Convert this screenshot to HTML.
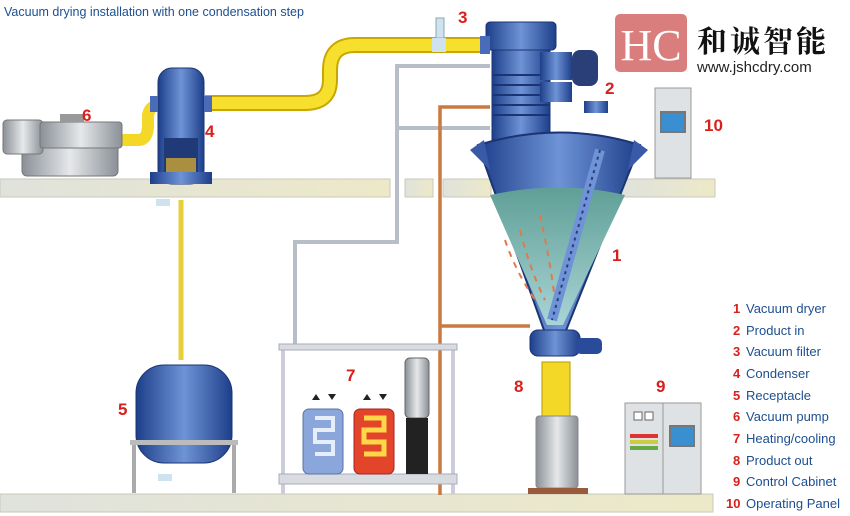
<!DOCTYPE html>
<html><head><meta charset="utf-8"><style>
body{margin:0;background:#fff;width:850px;height:516px;overflow:hidden}
svg{display:block;font-family:"Liberation Sans","Noto Sans CJK SC",sans-serif}
.n{fill:#d8201c;font-weight:bold;font-size:17px}
.l{fill:#1d4f91;font-size:13px}
.ln{fill:#d8201c;font-weight:bold;font-size:13px}
</style></head><body>
<svg width="850" height="516" viewBox="0 0 850 516">
<defs>
<linearGradient id="blue" x1="0" x2="1"><stop offset="0" stop-color="#1d3f8a"/><stop offset=".5" stop-color="#6f93d6"/><stop offset="1" stop-color="#1d3f8a"/></linearGradient>
<linearGradient id="grey" x1="0" x2="1"><stop offset="0" stop-color="#8a9096"/><stop offset=".5" stop-color="#e6e8ea"/><stop offset="1" stop-color="#8a9096"/></linearGradient>
<linearGradient id="shelf" x1="0" x2="1"><stop offset="0" stop-color="#e0e2dc"/><stop offset="1" stop-color="#ede9c8"/></linearGradient>
<linearGradient id="fill" x1="0" y1="0" x2="0" y2="1"><stop offset="0" stop-color="#5f9f96"/><stop offset="1" stop-color="#a9d4d6"/></linearGradient>
</defs>
<text x="4" y="16" fill="#1d4f91" font-size="12.5">Vacuum drying installation with one condensation step</text>

<rect x="0" y="179" width="390" height="18" fill="url(#shelf)" stroke="#c9c9bb"/>
<rect x="405" y="179" width="28" height="18" fill="url(#shelf)" stroke="#c9c9bb"/>
<rect x="443" y="179" width="48" height="18" fill="url(#shelf)" stroke="#c9c9bb"/>
<rect x="620" y="179" width="95" height="18" fill="url(#shelf)" stroke="#c9c9bb"/>
<rect x="0" y="494" width="713" height="18" fill="url(#shelf)" stroke="#c9c9bb"/>

<path d="M490 66 H397 V242 H295 V350" fill="none" stroke="#b7bec8" stroke-width="4"/>
<path d="M397 128 H490" fill="none" stroke="#b7bec8" stroke-width="4"/>
<path d="M490 107 H440 V495 M440 326 H530" fill="none" stroke="#c87a40" stroke-width="3.5"/>

<path d="M205 103 H305 Q330 103 330 80 V70 Q330 45 355 45 H485" fill="none" stroke="#c8a800" stroke-width="16"/>
<path d="M205 103 H305 Q330 103 330 80 V70 Q330 45 355 45 H485" fill="none" stroke="#f7df2e" stroke-width="12"/>
<path d="M122 140 H138 Q148 140 148 125 V115 Q150 105 160 105" fill="none" stroke="#f3d827" stroke-width="12"/>
<rect x="436" y="18" width="8" height="20" fill="#cfe2ef" stroke="#8aa"/>
<rect x="432" y="38" width="14" height="14" fill="#cfe2ef"/>
<path d="M181 200 V360" stroke="#e6cf3a" stroke-width="5"/>

<!-- vacuum pump -->
<rect x="22" y="138" width="96" height="38" rx="5" fill="url(#grey)" stroke="#777"/>
<rect x="3" y="120" width="40" height="34" rx="4" fill="url(#grey)" stroke="#777"/>
<rect x="40" y="122" width="82" height="26" rx="3" fill="url(#grey)" stroke="#777"/>
<rect x="60" y="114" width="24" height="8" fill="#999"/>

<!-- condenser -->
<rect x="158" y="68" width="46" height="116" rx="14" fill="url(#blue)" stroke="#1b3473"/>
<rect x="150" y="96" width="8" height="16" fill="#4a6cb8"/><rect x="204" y="96" width="8" height="16" fill="#4a6cb8"/>
<rect x="164" y="138" width="34" height="44" fill="#203a78"/>
<rect x="166" y="158" width="30" height="20" fill="#a89040"/>
<rect x="150" y="172" width="62" height="12" fill="url(#blue)"/>
<rect x="156" y="199" width="14" height="7" fill="#cfe2ef"/>

<!-- receptacle -->
<rect x="136" y="365" width="96" height="98" rx="28" fill="url(#blue)" stroke="#1b3473"/>
<rect x="130" y="440" width="108" height="5" fill="#bbb"/>
<rect x="132" y="445" width="4" height="48" fill="#aaa"/><rect x="232" y="445" width="4" height="48" fill="#aaa"/>
<rect x="158" y="474" width="14" height="7" fill="#cfe2ef"/>

<!-- heating/cooling -->
<rect x="281" y="344" width="4" height="150" fill="#ccd"/><rect x="451" y="344" width="4" height="150" fill="#ccd"/>
<rect x="279" y="344" width="178" height="6" fill="#d8dce0" stroke="#aab"/>
<rect x="279" y="474" width="178" height="10" fill="#d8dce0" stroke="#aab"/>
<rect x="303" y="409" width="40" height="65" rx="6" fill="#8aa6da" stroke="#5a73a8"/>
<path d="M315 418 h18 v12 h-18 v12 h18 v12 h-18" stroke="#e6eefa" stroke-width="4" fill="none"/>
<rect x="354" y="409" width="40" height="65" rx="6" fill="#e2452a" stroke="#a22"/>
<path d="M364 418 h20 v12 h-20 v12 h20 v12 h-20" stroke="#ffd84a" stroke-width="5" fill="none"/>
<path d="M312 400 l4-6 4 6z M328 394 l4 6 4-6z M363 400 l4-6 4 6z M379 394 l4 6 4-6z" fill="#222"/>
<rect x="405" y="358" width="24" height="60" rx="5" fill="url(#grey)" stroke="#666"/>
<rect x="406" y="418" width="22" height="56" fill="#222"/>

<!-- dryer -->
<rect x="486" y="22" width="70" height="28" rx="4" fill="url(#blue)" stroke="#1b3473"/>
<rect x="480" y="36" width="10" height="18" fill="#4a6cb8"/>
<rect x="492" y="50" width="58" height="90" fill="url(#blue)" stroke="#1b3473"/>
<g stroke="#1b3473" stroke-width="2"><path d="M492 75h58M492 85h58M492 95h58M492 105h58M492 115h58"/></g>
<rect x="540" y="52" width="32" height="28" fill="url(#blue)"/>
<rect x="540" y="82" width="32" height="20" fill="url(#blue)"/>
<rect x="572" y="50" width="26" height="36" rx="8" fill="#2a3f78"/>
<rect x="584" y="101" width="24" height="12" fill="url(#blue)"/>
<path d="M478 145 Q560 120 640 145 L565 333 L545 333 Z" fill="url(#blue)" stroke="#1b3473" stroke-width="2"/>
<path d="M470 150 l14 -10 6 30z M648 150 l-14 -10 -6 30z" fill="#3a5aa8"/>
<path d="M490 195 Q560 180 625 195 L563 325 L547 325 Z" fill="url(#fill)"/>
<g fill="none" stroke="#e07a4a" stroke-width="2" stroke-dasharray="6 6"><path d="M520 230 Q530 270 545 300"/><path d="M540 215 Q550 260 555 300"/><path d="M505 240 Q515 270 535 300"/></g>
<path d="M600 150 L552 320" stroke="#6f93d6" stroke-width="10"/>
<path d="M600 150 L552 320" stroke="#2a3f78" stroke-width="2" stroke-dasharray="3 4"/>
<rect x="530" y="330" width="50" height="26" rx="8" fill="url(#blue)" stroke="#1b3473"/>
<rect x="576" y="338" width="26" height="16" rx="5" fill="#2a4a9a"/>
<rect x="542" y="362" width="28" height="55" fill="#f3d827" stroke="#b69a00"/>
<rect x="536" y="416" width="42" height="72" rx="3" fill="url(#grey)" stroke="#888"/>
<rect x="528" y="488" width="60" height="6" fill="#9b5a3a"/>

<!-- control cabinet -->
<rect x="625" y="403" width="38" height="91" fill="#dfe2e4" stroke="#999"/>
<rect x="663" y="403" width="38" height="91" fill="#dfe2e4" stroke="#999"/>
<rect x="634" y="412" width="8" height="8" fill="#fff" stroke="#666"/><rect x="645" y="412" width="8" height="8" fill="#fff" stroke="#666"/>
<rect x="630" y="434" width="28" height="4" fill="#d33"/><rect x="630" y="440" width="28" height="4" fill="#cc4"/><rect x="630" y="446" width="28" height="4" fill="#6a4"/>
<rect x="670" y="426" width="24" height="20" fill="#3a8fd0" stroke="#777" stroke-width="2"/>
<rect x="655" y="88" width="36" height="90" fill="#dfe2e4" stroke="#999"/>
<rect x="661" y="112" width="24" height="20" fill="#3a8fd0" stroke="#777" stroke-width="2"/>

<!-- logo -->
<rect x="615" y="14" width="72" height="58" rx="5" fill="#d97d7d"/>
<text x="651" y="60" text-anchor="middle" fill="#fff" font-family="Liberation Serif,serif" font-size="44">HC</text>
<text x="697" y="52" fill="#111" font-size="30" font-family="'Noto Serif CJK SC','Noto Sans CJK SC',serif" font-weight="bold" letter-spacing="3">和诚智能</text>
<text x="697" y="72" fill="#222" font-size="15">www.jshcdry.com</text>

<text class="n" x="458" y="23">3</text>
<text class="n" x="605" y="94">2</text>
<text class="n" x="704" y="131">10</text>
<text class="n" x="82" y="121">6</text>
<text class="n" x="205" y="137">4</text>
<text class="n" x="612" y="261">1</text>
<text class="n" x="118" y="415">5</text>
<text class="n" x="346" y="381">7</text>
<text class="n" x="514" y="392">8</text>
<text class="n" x="656" y="392">9</text>

<g>
<text class="ln" x="733" y="313">1</text><text class="l" x="746" y="313">Vacuum dryer</text>
<text class="ln" x="733" y="335">2</text><text class="l" x="746" y="335">Product in</text>
<text class="ln" x="733" y="356">3</text><text class="l" x="746" y="356">Vacuum filter</text>
<text class="ln" x="733" y="378">4</text><text class="l" x="746" y="378">Condenser</text>
<text class="ln" x="733" y="400">5</text><text class="l" x="746" y="400">Receptacle</text>
<text class="ln" x="733" y="421">6</text><text class="l" x="746" y="421">Vacuum pump</text>
<text class="ln" x="733" y="443">7</text><text class="l" x="746" y="443">Heating/cooling</text>
<text class="ln" x="733" y="465">8</text><text class="l" x="746" y="465">Product out</text>
<text class="ln" x="733" y="486">9</text><text class="l" x="746" y="486">Control Cabinet</text>
<text class="ln" x="726" y="508">10</text><text class="l" x="746" y="508">Operating Panel</text>
</g>
</svg>
</body></html>
